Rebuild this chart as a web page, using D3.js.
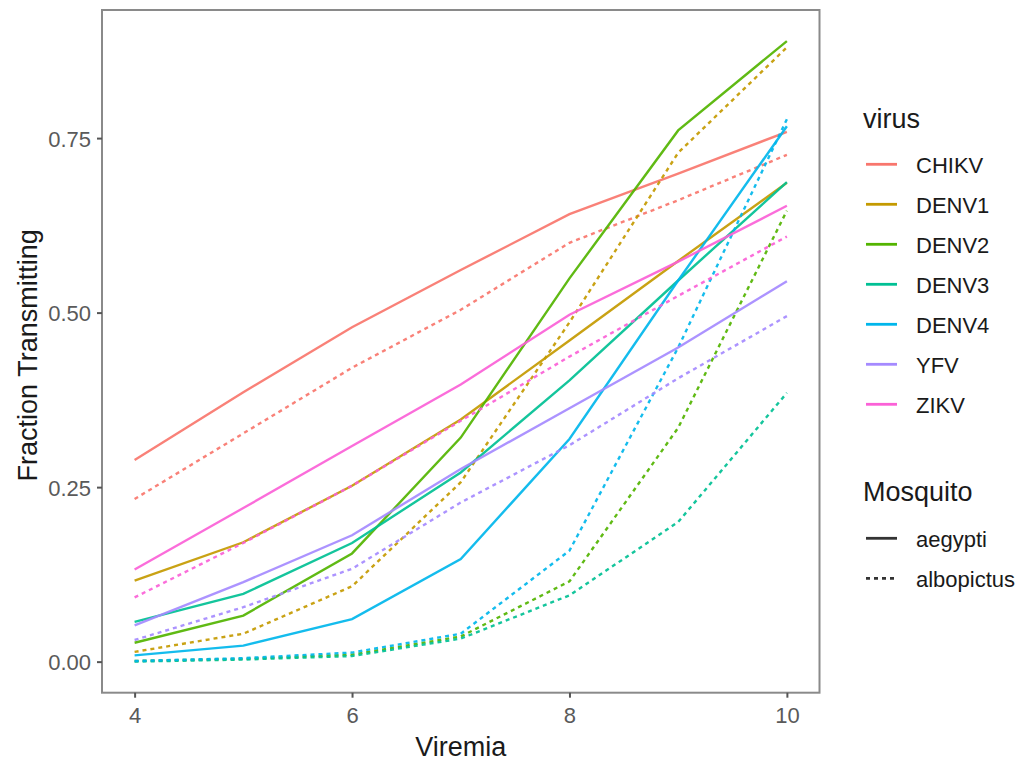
<!DOCTYPE html>
<html>
<head>
<meta charset="utf-8">
<script src="https://cdn.jsdelivr.net/npm/d3@7"></script>
<style>
  body { margin: 0; background: #fff; }
  text { font-family: "Liberation Sans", Arial, sans-serif; }
</style>
</head>
<body>
<script>
let viremia = [4, 5, 6, 7, 8, 9, 10];
let viruses = ['CHIKV', 'DENV1', 'DENV2', 'DENV3', 'DENV4', 'YFV', 'ZIKV'];
let mosquitoes = ['aegypti', 'albopictus'];
let virusColors = ['#F8766D', '#C49A00', '#53B400', '#00C094', '#00B6EB', '#A58AFF', '#FB61D7'];
let yTicks = [0, 0.25, 0.5, 0.75];
let xTicks = [4, 6, 8, 10];

//fraction transmitting at each viremia, one array per virus
let aegypti = {
    CHIKV: [0.289, 0.386, 0.479, 0.561, 0.641, 0.699, 0.759],
    DENV1: [0.116, 0.171, 0.252, 0.347, 0.460, 0.574, 0.686],
    DENV2: [0.027, 0.066, 0.155, 0.321, 0.549, 0.761, 0.889],
    DENV3: [0.057, 0.097, 0.170, 0.271, 0.403, 0.546, 0.687],
    DENV4: [0.009, 0.023, 0.061, 0.147, 0.319, 0.546, 0.767],
    YFV:   [0.052, 0.114, 0.181, 0.276, 0.363, 0.450, 0.545],
    ZIKV:  [0.132, 0.220, 0.309, 0.397, 0.497, 0.573, 0.653]
};
let albopictus = {
    CHIKV: [0.233, 0.327, 0.421, 0.504, 0.600, 0.661, 0.726],
    DENV1: [0.014, 0.040, 0.108, 0.257, 0.486, 0.729, 0.880],
    DENV2: [0.001, 0.004, 0.010, 0.036, 0.115, 0.335, 0.646],
    DENV3: [0.000, 0.003, 0.008, 0.033, 0.095, 0.200, 0.385],
    DENV4: [0.001, 0.005, 0.013, 0.040, 0.159, 0.450, 0.777],
    YFV:   [0.031, 0.078, 0.133, 0.228, 0.310, 0.406, 0.495],
    ZIKV:  [0.092, 0.170, 0.252, 0.345, 0.437, 0.524, 0.609]
};

let totalWidth = 1023;
let totalHeight = 767;
let panel = { left: 102, right: 819.5, top: 10, bottom: 692.7 };
let dash = '4,4';

let series = [];
for (let i = 0; i < viruses.length; i++) {
    series.push({ virus: viruses[i], mosquito: 'aegypti', values: aegypti[viruses[i]] });
    series.push({ virus: viruses[i], mosquito: 'albopictus', values: albopictus[viruses[i]] });
}

let xScale = d3.scaleLinear()
    .domain([3.7, 10.3])
    .range([panel.left, panel.right]);

let yScale = d3.scaleLinear()
    .domain([-0.0445, 0.9335])
    .range([panel.bottom, panel.top]);

let colorScale = d3.scaleOrdinal().domain(viruses).range(virusColors);

let svg = d3.select('body')
    .append('svg')
    .attr('width', totalWidth)
    .attr('height', totalHeight);

svg.append('rect')
    .attr('width', totalWidth)
    .attr('height', totalHeight)
    .attr('fill', '#fff');

let line = d3.line()
    .x(function(d, i) { return xScale(viremia[i]); })
    .y(function(d) { return yScale(d); });

svg.append('g')
    .selectAll('path')
    .data(series)
    .enter()
    .append('path')
    .attr('d', function(s) { return line(s.values); })
    .attr('fill', 'none')
    .attr('stroke', function(s) { return colorScale(s.virus); })
    .attr('stroke-width', 2.4)
    .attr('stroke-opacity', 0.92)
    .attr('stroke-dasharray', function(s) { return s.mosquito === 'albopictus' ? dash : null; });

//panel border
svg.append('rect')
    .attr('x', panel.left)
    .attr('y', panel.top)
    .attr('width', panel.right - panel.left)
    .attr('height', panel.bottom - panel.top)
    .attr('fill', 'none')
    .attr('stroke', '#8a8a8a')
    .attr('stroke-width', 2);

let xAxis = d3.axisBottom(xScale).tickValues(xTicks).tickSize(5).tickPadding(4).tickFormat(d3.format('d'));
let yAxis = d3.axisLeft(yScale).tickValues(yTicks).tickSize(5).tickPadding(6).tickFormat(d3.format('.2f'));

let gx = svg.append('g')
    .attr('transform', `translate(0, ${panel.bottom})`)
    .call(xAxis);
let gy = svg.append('g')
    .attr('transform', `translate(${panel.left}, 0)`)
    .call(yAxis);

[gx, gy].forEach(function(g) {
    g.select('.domain').remove();
    g.selectAll('.tick line').attr('stroke', '#555').attr('stroke-width', 2);
    g.selectAll('.tick text')
        .attr('fill', '#5a5a5a')
        .style('font-size', '22px');
});
gx.selectAll('.tick text').attr('dy', '0.95em');
gy.selectAll('.tick text').attr('dy', '0.36em');

svg.append('text')
    .attr('x', (panel.left + panel.right) / 2)
    .attr('y', 756)
    .attr('text-anchor', 'middle')
    .attr('fill', '#1a1a1a')
    .style('font-size', '27px')
    .text('Viremia');

svg.append('text')
    .attr('transform', `translate(37, ${(panel.top + panel.bottom) / 2 + 4}) rotate(-90)`)
    .attr('text-anchor', 'middle')
    .attr('fill', '#1a1a1a')
    .style('font-size', '27px')
    .text('Fraction Transmitting');

//virus legend
let legend = svg.append('g');
legend.append('text')
    .attr('x', 863)
    .attr('y', 128)
    .attr('fill', '#1a1a1a')
    .style('font-size', '27px')
    .text('virus');

let virusKeys = legend.selectAll('.vkey')
    .data(viruses)
    .enter()
    .append('g')
    .attr('transform', function(d, i) { return `translate(0, ${164.3 + i * 40})`; });
virusKeys.append('line')
    .attr('x1', 866).attr('x2', 897)
    .attr('stroke', function(d) { return colorScale(d); })
    .attr('stroke-width', 2.8);
virusKeys.append('text')
    .attr('x', 916)
    .attr('y', 8.3)
    .attr('fill', '#1a1a1a')
    .style('font-size', '22px')
    .text(function(d) { return d; });

//mosquito legend
legend.append('text')
    .attr('x', 863)
    .attr('y', 501)
    .attr('fill', '#1a1a1a')
    .style('font-size', '27px')
    .text('Mosquito');

let mosqKeys = legend.selectAll('.mkey')
    .data(mosquitoes)
    .enter()
    .append('g')
    .attr('transform', function(d, i) { return `translate(0, ${538.3 + i * 40})`; });
mosqKeys.append('line')
    .attr('x1', 866).attr('x2', 897)
    .attr('stroke', '#333')
    .attr('stroke-width', 2.8)
    .attr('stroke-dasharray', function(d) { return d === 'albopictus' ? dash : null; });
mosqKeys.append('text')
    .attr('x', 916)
    .attr('y', 8.3)
    .attr('fill', '#1a1a1a')
    .style('font-size', '22px')
    .text(function(d) { return d; });
</script>
</body>
</html>
